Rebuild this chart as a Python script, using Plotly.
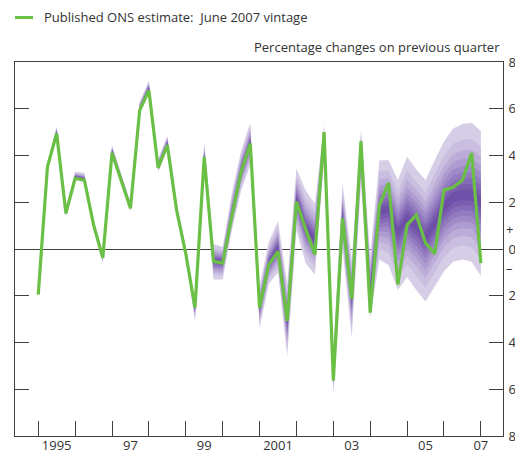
import plotly.graph_objects as go

# ---------------- data ----------------
start_year = 1995
n_quarters = 49  # 1995 Q1 .. 2007 Q1
quarters = [f"{start_year + i // 4} Q{i % 4 + 1}" for i in range(n_quarters)]

ons_estimate = [-1.95, 3.52, 4.94, 1.53, 3.02, 2.95, 1.03, -0.38,
                4.11, 2.94, 1.74, 5.93, 6.78, 3.47, 4.44, 1.67,
                -0.20, -2.51, 3.94, -0.53, -0.60, 1.40, 3.30, 4.51,
                -2.51, -0.67, -0.10, -3.08, 2.03, 0.85, -0.24, 5.00,
                -5.63, 1.32, -2.13, 4.62, -2.72, 1.88, 2.83, -1.52,
                1.03, 1.46, 0.25, -0.20, 2.52, 2.64, 2.95, 4.11, -0.60]

fan_centre = [-1.90, 3.55, 4.98, 1.55, 3.08, 3.00, 1.08, -0.33,
              4.18, 3.00, 1.80, 6.00, 6.88, 3.55, 4.52, 1.72,
              -0.15, -2.50, 4.00, -0.50, -0.55, 1.50, 3.35, 4.55,
              -2.50, -0.60, 0.05, -3.10, 2.10, 0.90, 0.40, 4.60,
              -5.40, 1.40, -2.10, 4.20, -1.80, 1.60, 1.70, 0.70,
              1.30, 1.00, 0.50, 1.10, 1.80, 2.20, 2.30, 2.30, 2.00]

fan_lower = [-2.00, 3.45, 4.85, 1.40, 2.95, 2.85, 0.95, -0.60,
             4.00, 2.85, 1.60, 5.85, 6.70, 3.30, 4.30, 1.50,
             -0.40, -3.10, 3.70, -1.30, -1.30, 0.80, 2.50, 3.60,
             -3.40, -1.50, -1.00, -4.60, 0.80, -0.60, -1.10, 3.80,
             -6.20, 0.00, -3.80, 2.80, -2.95, -0.45, -0.70, -1.75,
             -1.20, -1.75, -2.25, -1.60, -0.95, -0.55, -0.45, -0.55, -1.15]

fan_upper = [-1.80, 3.70, 5.25, 1.70, 3.30, 3.25, 1.25, -0.15,
             4.45, 3.20, 2.00, 6.30, 7.20, 3.85, 4.85, 2.00,
             0.10, -2.20, 4.55, 0.20, 0.10, 2.40, 4.20, 5.40,
             -1.60, 0.30, 1.20, -1.50, 3.45, 2.50, 1.95, 5.30,
             -4.40, 2.80, -0.45, 5.10, -0.30, 3.80, 3.80, 2.95,
             3.95, 3.40, 2.95, 3.80, 4.60, 5.15, 5.35, 5.40, 5.05]

year_ticks = list(range(1995, 2008))
year_labels = ["1995", "97", "99", "2001", "03", "05", "07"]
year_label_pos = [1995.5, 1997.5, 1999.5, 2001.5, 2003.5, 2005.5, 2007.0]
y_tick_vals = [-8, -6, -4, -2, 0, 2, 4, 6, 8]
y_tick_text = ["8", "6", "4", "2", "0", "2", "4", "6", "8"]

# ---------------- styling ----------------
band_z = [1.6449, 1.2816, 1.0364, 0.8416, 0.6745, 0.5244, 0.3853, 0.2533, 0.1257]
band_colors = ["#d6cde6", "#c9bde0", "#bcadd8", "#ae9cd0", "#a08bc8",
               "#937bc0", "#866bb8", "#7a5daf", "#6e50a8"]
green = "#6abf45"
axis_col = "#404040"
text_col = "#333333"
font_family = "Open Sans, Noto Sans, DejaVu Sans, sans-serif"

x = [int(q.split()[0]) + (int(q.split()[1][1]) - 1) / 4 for q in quarters]

fig = go.Figure()

for z, col in zip(band_z, band_colors):
    f = z / band_z[0]
    up = [c + (h - c) * f for c, h in zip(fan_centre, fan_upper)]
    lo = [c - (c - l) * f for c, l in zip(fan_centre, fan_lower)]
    fig.add_trace(go.Scatter(
        x=x + x[::-1], y=up + lo[::-1], fill="toself", fillcolor=col,
        line=dict(width=0), mode="lines", hoverinfo="skip", showlegend=False))

fig.add_trace(go.Scatter(
    x=x, y=ons_estimate, mode="lines", name="Published ONS estimate:  June 2007 vintage",
    line=dict(color=green, width=3.2), showlegend=False))

# helper trace for secondary label axes
fig.add_trace(go.Scatter(x=[2000], y=[0], xaxis="x2", yaxis="y2", mode="markers",
                         marker=dict(opacity=0), hoverinfo="skip", showlegend=False))

xr = [1994.37, 2007.6]
yr = [-8, 8]

fig.update_layout(
    width=515, height=452,
    margin=dict(l=6, r=18, t=54, b=21),
    paper_bgcolor="white", plot_bgcolor="white",
    font=dict(family=font_family, size=13, color=text_col),
    xaxis=dict(range=xr, tickvals=year_ticks, showticklabels=False,
               ticks="inside", ticklen=15, tickcolor=axis_col, tickwidth=1,
               showline=True, linecolor=axis_col, linewidth=1, mirror=True,
               showgrid=False, zeroline=False, fixedrange=True),
    yaxis=dict(range=yr, tickvals=y_tick_vals, ticktext=y_tick_text, side="right",
               ticks="inside", ticklen=14, tickcolor=axis_col, tickwidth=1,
               showline=True, linecolor=axis_col, linewidth=1, mirror="ticks",
               showgrid=False, zeroline=True, zerolinecolor=axis_col, zerolinewidth=1,
               ticklabelstandoff=2, fixedrange=True),
    xaxis2=dict(range=xr, overlaying="x", anchor="y2", side="bottom",
                tickvals=year_label_pos, ticktext=year_labels, ticks="",
                showline=False, showgrid=False, zeroline=False, fixedrange=True),
    yaxis2=dict(range=yr, overlaying="y", anchor="x2", side="right",
                tickvals=[0.85, -0.85], ticktext=["+", "–"], ticks="",
                showline=False, showgrid=False, zeroline=False,
                ticklabelstandoff=2, fixedrange=True),
    shapes=[dict(type="line", xref="paper", yref="paper",
                 x0=0.0, x1=0.037, y0=1.119, y1=1.119,
                 line=dict(color=green, width=3))],
    annotations=[
        dict(text="Published ONS estimate:  June 2007 vintage", xref="paper", yref="paper",
             x=0.055, y=1.119, xanchor="left", yanchor="middle", showarrow=False,
             font=dict(size=13, color=text_col)),
        dict(text="Percentage changes on previous quarter", xref="paper", yref="paper",
             x=0.997, y=1.04, xanchor="right", yanchor="middle", showarrow=False,
             font=dict(size=13, color=text_col)),
    ],
)

fig.write_html("out.html")
